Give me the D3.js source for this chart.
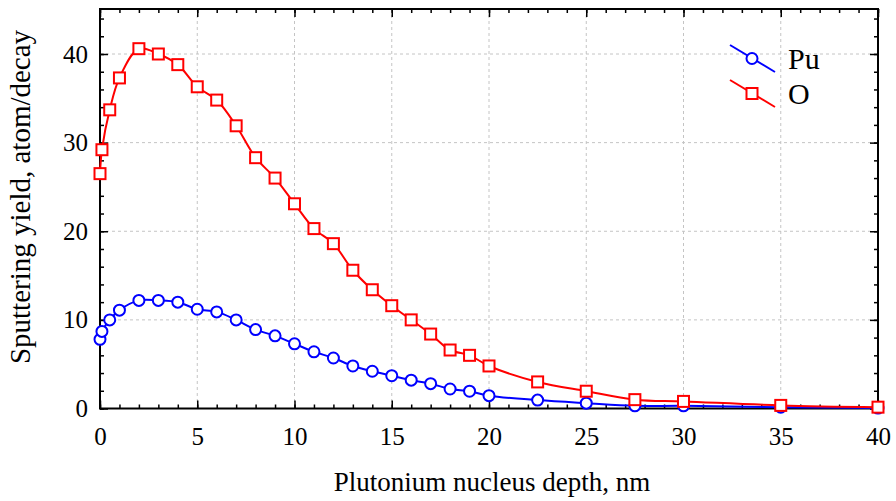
<!DOCTYPE html>
<html>
<head>
<meta charset="utf-8">
<script src="https://cdn.jsdelivr.net/npm/d3@7"></script>
<style>
  html, body { margin: 0; padding: 0; background: #fff; }
  svg { display: block; }
  text { font-family: "Liberation Serif", "Times New Roman", serif; fill: #000; }
</style>
</head>
<body>
<svg id="chart" width="896" height="501"></svg>
<script>
// ---- data ----
const depthPu = [0, 0.1, 0.5, 1, 2, 3, 4, 5, 6, 7, 8, 9, 10, 11, 12, 13, 14, 15, 16, 17, 18, 19, 20, 22.5, 25, 27.5, 30, 35, 40];
const yieldPu = [7.8, 8.7, 10.0, 11.1, 12.2, 12.2, 12.0, 11.2, 10.9, 10.0, 8.9, 8.2, 7.3, 6.4, 5.7, 4.8, 4.2, 3.7, 3.2, 2.8, 2.2, 1.95, 1.45, 0.95, 0.6, 0.3, 0.3, 0.15, 0.05];
const depthO = [0, 0.1, 0.5, 1, 2, 3, 4, 5, 6, 7, 8, 9, 10, 11, 12, 13, 14, 15, 16, 17, 18, 19, 20, 22.5, 25, 27.5, 30, 35, 40];
const yieldO = [26.5, 29.2, 33.7, 37.3, 40.6, 40.0, 38.8, 36.3, 34.8, 31.9, 28.3, 26.0, 23.1, 20.3, 18.6, 15.6, 13.4, 11.6, 10.0, 8.4, 6.6, 6.0, 4.8, 3.0, 1.95, 1.0, 0.8, 0.35, 0.15];
const seriesNames = ["Pu", "O"];
const xTicks = [0, 5, 10, 15, 20, 25, 30, 35, 40];
const yTicks = [0, 10, 20, 30, 40];
const xTitle = "Plutonium nucleus depth, nm";
const yTitle = "Sputtering yield, atom/decay";

// ---- layout ----
const svg = d3.select("#chart");
const L = 100, R = 878, T = 9, B = 408.5;
const x = d3.scaleLinear().domain([0, 40]).range([L, R]);
const y = d3.scaleLinear().domain([0, 40]).range([B, 54]);
const yTop = y.invert(T);

// grid
const grid = svg.append("g").attr("stroke", "#c4c4c4").attr("stroke-width", 1).attr("stroke-dasharray", "3,3");
xTicks.filter(d => d > 0 && d < 40).forEach(d => {
  grid.append("line").attr("x1", x(d)).attr("x2", x(d)).attr("y1", T).attr("y2", B);
});
yTicks.filter(d => d > 0).forEach(d => {
  grid.append("line").attr("x1", L).attr("x2", R).attr("y1", y(d)).attr("y2", y(d));
});

// axes with inward ticks
const xMinor = d3.range(0, 41, 1);
const yMinor = d3.range(0, yTop, 2);

function styleAxis(g) {
  g.select(".domain").remove();
  g.selectAll(".tick line").attr("stroke", "#000").attr("stroke-width", 1.5);
  g.selectAll(".tick text").style("font-family", "'Liberation Serif', serif").style("font-size", "25px").attr("fill", "#000");
}

svg.append("g").attr("transform", `translate(0,${B})`)
  .call(d3.axisBottom(x).tickValues(xMinor).tickSize(-4).tickFormat(""))
  .call(styleAxis);
svg.append("g").attr("transform", `translate(0,${B})`)
  .call(d3.axisBottom(x).tickValues(xTicks).tickSize(-8).tickPadding(19).tickFormat(d3.format("d")))
  .call(styleAxis);
svg.append("g").attr("transform", `translate(0,${T})`)
  .call(d3.axisTop(x).tickValues(xMinor).tickSize(-4).tickFormat(""))
  .call(styleAxis);
svg.append("g").attr("transform", `translate(0,${T})`)
  .call(d3.axisTop(x).tickValues(xTicks).tickSize(-8).tickFormat(""))
  .call(styleAxis);
svg.append("g").attr("transform", `translate(${L},0)`)
  .call(d3.axisLeft(y).tickValues(yMinor).tickSize(-4).tickFormat(""))
  .call(styleAxis);
svg.append("g").attr("transform", `translate(${L},0)`)
  .call(d3.axisLeft(y).tickValues(yTicks).tickSize(-8).tickPadding(12).tickFormat(d3.format("d")))
  .call(styleAxis);
svg.append("g").attr("transform", `translate(${R},0)`)
  .call(d3.axisRight(y).tickValues(yMinor).tickSize(-4).tickFormat(""))
  .call(styleAxis);
svg.append("g").attr("transform", `translate(${R},0)`)
  .call(d3.axisRight(y).tickValues(yTicks).tickSize(-8).tickFormat(""))
  .call(styleAxis);

// frame
svg.append("rect").attr("x", L).attr("y", T).attr("width", R - L).attr("height", B - T)
  .attr("fill", "none").attr("stroke", "#000").attr("stroke-width", 2);

const line = d3.line().x(d => x(d[0])).y(d => y(d[1])).curve(d3.curveCatmullRom.alpha(0.5));
const dataPu = depthPu.map((d, i) => [d, yieldPu[i]]);
const dataO = depthO.map((d, i) => [d, yieldO[i]]);

const blue = "#0000ff", red = "#ff0000";
const plot = svg.append("g");

// Pu
plot.append("path").datum(dataPu).attr("d", line).attr("fill", "none").attr("stroke", blue).attr("stroke-width", 2);
plot.append("g").selectAll("circle").data(dataPu).join("circle")
  .attr("cx", d => x(d[0])).attr("cy", d => y(d[1])).attr("r", 5.5)
  .attr("fill", "#fff").attr("stroke", blue).attr("stroke-width", 2);

// O
plot.append("path").datum(dataO).attr("d", line).attr("fill", "none").attr("stroke", red).attr("stroke-width", 2);
const sq = 11;
plot.append("g").selectAll("rect").data(dataO).join("rect")
  .attr("x", d => x(d[0]) - sq / 2).attr("y", d => y(d[1]) - sq / 2).attr("width", sq).attr("height", sq)
  .attr("fill", "#fff").attr("stroke", red).attr("stroke-width", 2);

// legend
const leg = svg.append("g");
[[blue, 45, "circle"], [red, 80, "square"]].forEach(([c, y0, shape], i) => {
  leg.append("line").attr("x1", 730).attr("y1", y0).attr("x2", 775).attr("y2", y0 + 27)
    .attr("stroke", c).attr("stroke-width", 2);
  const cx = 752, cy = y0 + 13.5;
  if (shape === "circle") {
    leg.append("circle").attr("cx", cx).attr("cy", cy).attr("r", 5.5).attr("fill", "#fff").attr("stroke", c).attr("stroke-width", 2);
  } else {
    leg.append("rect").attr("x", cx - sq / 2).attr("y", cy - sq / 2).attr("width", sq).attr("height", sq).attr("fill", "#fff").attr("stroke", c).attr("stroke-width", 2);
  }
  leg.append("text").attr("x", 788).attr("y", y0 + 24).style("font-size", "30px").text(seriesNames[i]);
});

// titles
svg.append("text").attr("x", 492).attr("y", 491).attr("text-anchor", "middle")
  .style("font-size", "27px").text(xTitle);
svg.append("text").attr("transform", `translate(30,197) rotate(-90)`).attr("text-anchor", "middle")
  .style("font-size", "29px").text(yTitle);
</script>
</body>
</html>
